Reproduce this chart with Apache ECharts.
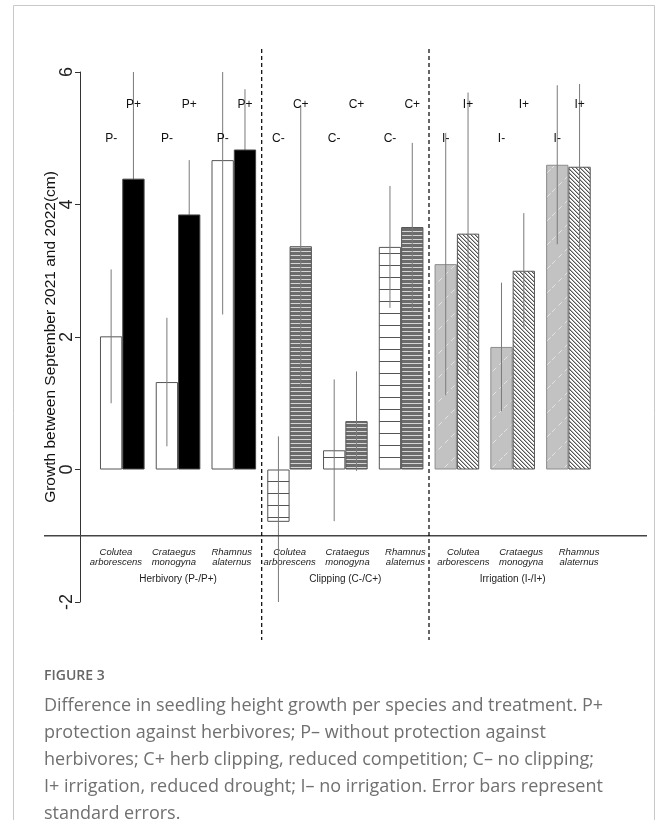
<!DOCTYPE html>
<html><head><meta charset="utf-8">
<script src="https://cdn.jsdelivr.net/npm/echarts@6/dist/echarts.min.js"></script>
<style>html,body{margin:0;padding:0;background:#fff}#c{width:656px;height:820px}</style>
</head><body><div id="c"></div>
<script>
// ---- data ----
const categories = ['Colutea arborescens','Crataegus monogyna','Rhamnus alaternus',
                    'Colutea arborescens','Crataegus monogyna','Rhamnus alaternus',
                    'Colutea arborescens','Crataegus monogyna','Rhamnus alaternus'];
const groupNames = ['Herbivory (P-/P+)','Clipping (C-/C+)','Irrigation (I-/I+)'];
const minusMean = [2.01, 1.32, 4.67, -0.79, 0.29, 3.36, 3.10, 1.85, 4.60];
const minusSE   = [1.01, 0.97, 2.33, 1.29, 1.07, 0.92, 1.98, 0.97, 1.20];
const plusMean  = [4.39, 3.85, 4.83, 3.37, 0.73, 3.66, 3.56, 3.00, 4.57];
const plusSE    = [1.70, 0.82, 0.91, 2.12, 0.75, 1.27, 2.13, 0.87, 1.25];
const minusLabels = ['P-','P-','P-','C-','C-','C-','I-','I-','I-'];
const plusLabels  = ['P+','P+','P+','C+','C+','C+','I+','I+','I+'];
const yTicks = [-2, 0, 2, 4, 6];
const yTitle = 'Growth between September 2021 and 2022(cm)';
const captionTitle = 'FIGURE 3';
const captionLines = [
  'Difference in seedling height growth per species and treatment. P+',
  'protection against herbivores; P\u2013 without protection against',
  'herbivores; C+ herb clipping, reduced competition; C\u2013 no clipping;',
  'I+ irrigation, reduced drought; I\u2013 no irrigation. Error bars represent',
  'standard errors.'
];

// ---- patterns ----
function pat(w, h, draw) {
  const c = document.createElement('canvas'); c.width = w; c.height = h;
  const g = c.getContext('2d'); draw(g, w, h);
  return { image: c, repeat: 'repeat' };
}
const patCminus = pat(12, 12, (g,w,h) => { g.fillStyle='#fff'; g.fillRect(0,0,w,h); g.fillStyle='#555'; g.fillRect(0,1,w,1); });
const patCplus = pat(4, 4, (g,w,h) => { g.fillStyle='#6c6c6c'; g.fillRect(0,0,w,h); g.fillStyle='#d6d6d6'; g.fillRect(0,3,w,1); });
const patIminus = pat(24, 24, (g,w,h) => { g.fillStyle='#c2c2c2'; g.fillRect(0,0,w,h); g.strokeStyle='rgba(255,255,255,0.55)'; g.lineWidth=1; g.setLineDash([5,4]); g.beginPath(); g.moveTo(0,h); g.lineTo(w,0); g.stroke(); });
const patIplus = pat(4, 4, (g,w,h) => { g.fillStyle='#fff'; g.fillRect(0,0,w,h); for (let i=0;i<4;i++){ g.fillStyle='#555'; g.fillRect(i,i,1,1); g.fillStyle='#b4b4b4'; g.fillRect((i+1)%4,i,1,1);} });

const minusStyles = [
  { color: '#ffffff', borderColor: '#555', borderWidth: 1 },
  { color: patCminus, borderColor: '#555', borderWidth: 1 },
  { color: patIminus, borderColor: '#8c8c8c', borderWidth: 1 }
];
const plusStyles = [
  { color: '#000000', borderColor: '#444', borderWidth: 1 },
  { color: patCplus, borderColor: '#555', borderWidth: 1 },
  { color: patIplus, borderColor: '#555', borderWidth: 1 }
];

const LABEL_Y_PLUS = 5.5, LABEL_Y_MINUS = 5.0;
const FONT = 'Liberation Sans';

const chart = echarts.init(document.getElementById('c'), null, { renderer: 'canvas' });

function errRender(params, api) {
  const cat = api.value(0), mean = api.value(1), se = api.value(2), side = api.value(3);
  const band = api.size([1, 0])[0];
  const dx = side * band * 0.2;
  const p1 = api.coord([cat, mean - se]);
  const p2 = api.coord([cat, mean + se]);
  return { type: 'line', shape: { x1: p1[0] + dx, y1: p1[1], x2: p2[0] + dx, y2: p2[1] },
           style: { stroke: '#7a7a7a', lineWidth: 1 } };
}
const errItems = [];
categories.forEach((c, i) => {
  errItems.push({ value: [i, minusMean[i], minusSE[i], -1], behind: false });
  errItems.push({ value: [i, plusMean[i], plusSE[i], 1], behind: Math.floor(i / 3) === 0 });
});

const labelItems = [];
categories.forEach((c, i) => {
  labelItems.push([i, -1, minusLabels[i]]);
  labelItems.push([i, 1, plusLabels[i]]);
});

const option = {
  animation: false,
  backgroundColor: '#ffffff',
  grid: [
    { left: 94.4, right: 59.7, top: 72, bottom: 218, outerBoundsMode: 'none', containLabel: false },
    // species-name axis (names are spread slightly wider than the bar pairs)
    { left: 87, right: 48, top: 72, bottom: 218, outerBoundsMode: 'none', containLabel: false }
  ],
  xAxis: [
    { type: 'category', data: categories, position: 'bottom', gridIndex: 0,
      axisLine: { show: false }, axisTick: { show: false }, splitLine: { show: false },
      axisLabel: { interval: (i) => i % 3 === 1, margin: -28, fontSize: 10, fontFamily: FONT, color: '#222',
                   formatter: (v, i) => groupNames[Math.floor(i / 3)] } },
    { type: 'category', data: categories, position: 'bottom', gridIndex: 1,
      axisLine: { show: false }, axisTick: { show: false }, splitLine: { show: false },
      axisLabel: { interval: 0, margin: -55, fontSize: 9.5, lineHeight: 10.5, fontStyle: 'italic',
                   fontFamily: FONT, color: '#222', formatter: v => v.split(' ').join('\n') } }
  ],
  yAxis: [
    { type: 'value', gridIndex: 0, min: yTicks[0], max: yTicks[yTicks.length - 1], interval: 2, offset: 14.4,
      axisLine: { show: true, lineStyle: { color: '#333', width: 1 } },
      axisTick: { show: true, length: 5, lineStyle: { color: '#333' } },
      splitLine: { show: false },
      axisLabel: { rotate: 90, margin: 4, fontSize: 18, color: '#222', fontFamily: FONT },
      name: yTitle, nameLocation: 'middle', nameGap: 21, nameMoveOverlap: false,
      nameTextStyle: { fontSize: 15.5, color: '#111', fontFamily: FONT } },
    { type: 'value', gridIndex: 1, min: yTicks[0], max: yTicks[yTicks.length - 1], show: false }
  ],
  series: [
    { type: 'custom', name: 'errBehind', z: 1, clip: true, renderItem: errRender,
      data: errItems.filter(d => d.behind).map(d => d.value) },
    { type: 'bar', name: 'minus', barGap: '0%', barCategoryGap: '20%', z: 2,
      data: minusMean.map((v, i) => ({ value: v, itemStyle: minusStyles[Math.floor(i / 3)] })) },
    { type: 'bar', name: 'plus', barGap: '0%', barCategoryGap: '20%', z: 2,
      data: plusMean.map((v, i) => ({ value: v, itemStyle: plusStyles[Math.floor(i / 3)] })) },
    { type: 'custom', name: 'errFront', z: 3, clip: true, renderItem: errRender,
      data: errItems.filter(d => !d.behind).map(d => d.value) },
    { type: 'custom', name: 'labels', z: 4,
      renderItem: (params, api) => {
        const cat = api.value(0), side = api.value(1);
        const txt = labelItems[params.dataIndex][2];
        const band = api.size([1, 0])[0];
        const p = api.coord([cat, side > 0 ? LABEL_Y_PLUS : LABEL_Y_MINUS]);
        return { type: 'text', x: p[0] + side * band * 0.2, y: p[1],
                 style: { text: txt, align: 'center', verticalAlign: 'middle',
                          fontSize: 12, fontFamily: FONT, fill: '#111' } };
      },
      data: labelItems.map(d => [d[0], d[1]]) }
  ]
};
chart.setOption(option);

// decorations positioned through the chart's own scales
const x0 = chart.convertToPixel({ xAxisIndex: 0 }, 0);
const x1 = chart.convertToPixel({ xAxisIndex: 0 }, 1);
const band = x1 - x0;
const div1 = chart.convertToPixel({ xAxisIndex: 0 }, 2) + band / 2;
const div2 = chart.convertToPixel({ xAxisIndex: 0 }, 5) + band / 2;
const yMinus1 = chart.convertToPixel({ yAxisIndex: 0 }, -1);

chart.setOption({
  graphic: [
    { type: 'rect', shape: { x: 13.5, y: 5.5, width: 641, height: 900 }, silent: true,
      style: { fill: 'none', stroke: '#c8c8c8', lineWidth: 1 }, z: -1 },
    { type: 'line', shape: { x1: 44, y1: yMinus1, x2: 647, y2: yMinus1 },
      style: { stroke: '#444', lineWidth: 1.3 }, z: 5 },
    { type: 'line', shape: { x1: div1, y1: 49, x2: div1, y2: 640 },
      style: { stroke: '#000', lineWidth: 1.2, lineDash: [4, 3] }, z: 5 },
    { type: 'line', shape: { x1: div2, y1: 49, x2: div2, y2: 640 },
      style: { stroke: '#000', lineWidth: 1.2, lineDash: [4, 3] }, z: 5 },
    { type: 'text', left: 44, top: 669,
      style: { text: captionTitle, fontSize: 14, fontWeight: 600, fontFamily: 'Open Sans', fill: '#666' } },
    { type: 'text', left: 44, top: 692,
      style: { text: captionLines.join('\n'), fontSize: 18, lineHeight: 27, fontFamily: 'Open Sans', fill: '#707070' } }
  ]
});
</script>
</body></html>
